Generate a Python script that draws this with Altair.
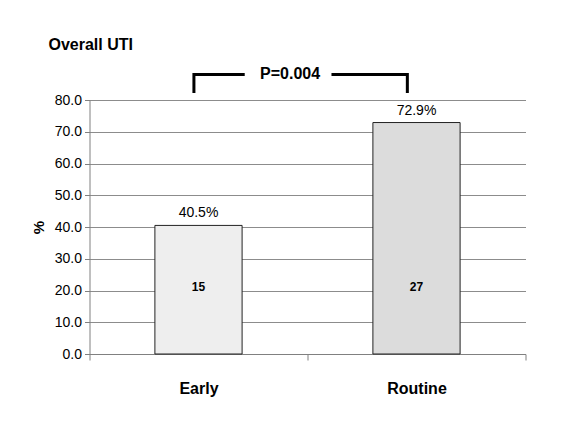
import altair as alt
import pandas as pd

# ---- data ----
groups = ["Early", "Routine"]
percents = [40.5, 72.9]
counts = [15, 27]
bar_colors = ["#eeeeee", "#dcdcdc"]
p_text = "P=0.004"
y_ticks = [0, 10, 20, 30, 40, 50, 60, 70, 80]

# group slots on a 0..2 axis (one unit per group), bars occupy 40% of a slot
centers = [i + 0.5 for i in range(len(groups))]
half_bar = 0.2

# bracket (annotation) in data units
bracket_seg = [0, 0, 0, 1, 1, 1]
bracket_x = [0.479, 0.479, 0.712, 1.110, 1.458, 1.458]
bracket_y = [82.2, 88.0, 88.0, 88.0, 88.0, 82.2]
p_x = 0.92
p_y = 88.2
count_label_y = 21

FONT = "'Liberation Sans', Arial, sans-serif"

df = pd.DataFrame({
    "group": groups,
    "pct": percents,
    "base": [0] * len(groups),
    "c": centers,
    "x0": [c - half_bar for c in centers],
    "x1": [c + half_bar for c in centers],
    "count": [str(c) for c in counts],
    "cy": [count_label_y] * len(groups),
    "label": [f"{p:.1f}%" for p in percents],
})
br = pd.DataFrame({"seg": bracket_seg, "x": bracket_x, "y": bracket_y,
                   "order": list(range(len(bracket_x)))})
pdf = pd.DataFrame({"x": [p_x], "y": [p_y], "t": [p_text]})

xscale = alt.Scale(domain=[0, len(groups)], nice=False, zero=False, padding=0)
yscale = alt.Scale(domain=[0, 80], nice=False, padding=0)

label_expr = " : ".join(
    [f"datum.value == {c} ? '{g}'" for g, c in zip(groups, centers)]
) + " : ''"
center_test = " || ".join([f"datum.value == {c}" for c in centers])

yaxis = alt.Axis(
    title="%", values=y_ticks, tickCount=len(y_ticks) + 1, format=".1f",
    labelOverlap=False,
    labelFont=FONT, labelFontSize=14, labelColor="#000", labelPadding=3,
    tickSize=5, tickColor="#808080", domainColor="#808080",
    gridColor="#8c8c8c", gridWidth=1,
    titleFont=FONT, titleFontSize=15, titleFontWeight="bold", titleColor="#000",
    titlePadding=8,
)
xaxis = alt.Axis(
    title=None, values=[0, 0.5, 1, 1.5, 2], tickCount=6, labelExpr=label_expr,
    labelAngle=0, labelOverlap=False, labelFlush=False, labelFont=FONT,
    labelFontSize=16, labelFontWeight="bold", labelColor="#000",
    labelPadding=20, tickSize=6, tickColor="#808080", domainColor="#808080",
    tickOpacity={"condition": {"test": center_test, "value": 0}, "value": 1},
    grid=False,
)

bars = alt.Chart(df).mark_bar(stroke="#222222", strokeWidth=1, orient="vertical").encode(
    x=alt.X("x0:Q", scale=xscale, axis=xaxis),
    x2="x1:Q",
    y=alt.Y("pct:Q", scale=yscale, axis=yaxis),
    y2="base:Q",
    fill=alt.Fill("group:N", scale=alt.Scale(domain=groups, range=bar_colors), legend=None),
)

pct_labels = alt.Chart(df).mark_text(
    baseline="bottom", dy=-5, font=FONT, fontSize=14, color="#000"
).encode(x=alt.X("c:Q", scale=xscale), y=alt.Y("pct:Q", scale=yscale), text="label:N")

count_labels = alt.Chart(df).mark_text(
    baseline="middle", font=FONT, fontSize=12, fontWeight="bold", color="#000"
).encode(x=alt.X("c:Q", scale=xscale), y=alt.Y("cy:Q", scale=yscale), text="count:N")

bracket = alt.Chart(br).mark_line(
    color="#000", strokeWidth=3, strokeJoin="miter", strokeCap="butt"
).encode(
    x=alt.X("x:Q", scale=xscale), y=alt.Y("y:Q", scale=yscale),
    detail="seg:N", order="order:Q",
)

ptext = alt.Chart(pdf).mark_text(
    font=FONT, fontSize=16, fontWeight="bold", color="#000", baseline="middle"
).encode(x=alt.X("x:Q", scale=xscale), y=alt.Y("y:Q", scale=yscale), text="t:N")

chart = alt.layer(bars, pct_labels, count_labels, bracket, ptext).properties(
    width=436,
    height=254,
    autosize=alt.AutoSizeParams(type="none"),
    padding={"left": 81.5, "top": 92, "right": 40, "bottom": 70},
    title=alt.Title("Overall UTI", anchor="start", frame="group", font=FONT,
                    fontSize=16, fontWeight="bold", color="#000", dx=-41, offset=13),
    background="white",
).configure_view(stroke=None)

chart.save("out.html", embed_options={"renderer": "svg", "actions": False})
